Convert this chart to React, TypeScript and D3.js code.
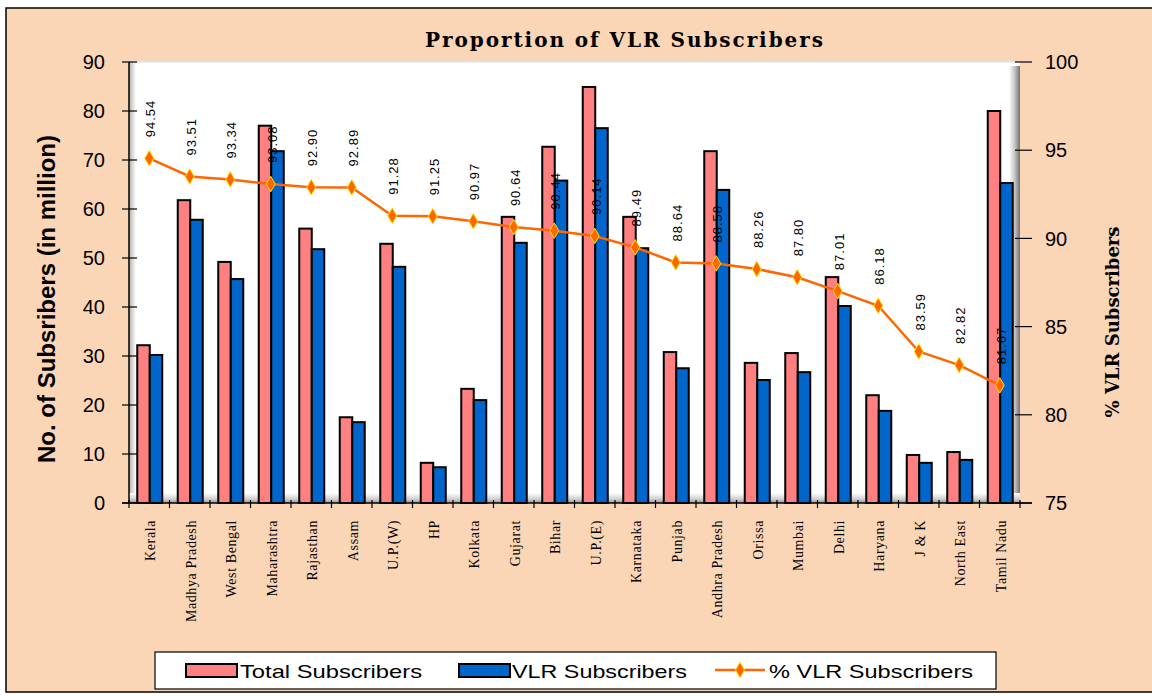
import { useEffect, useRef } from 'react';
import * as d3 from 'd3';

const circles = [
  'Kerala', 'Madhya Pradesh', 'West Bengal', 'Maharashtra', 'Rajasthan', 'Assam',
  'U.P.(W)', 'HP', 'Kolkata', 'Gujarat', 'Bihar', 'U.P.(E)', 'Karnataka', 'Punjab',
  'Andhra Pradesh', 'Orissa', 'Mumbai', 'Delhi', 'Haryana', 'J & K', 'North East', 'Tamil Nadu',
];
const totalSubs = [32.2, 61.8, 49.2, 77.0, 56.0, 17.5, 52.9, 8.2, 23.3, 58.4, 72.7, 84.9, 58.4, 30.8, 71.8, 28.6, 30.6, 46.1, 22.0, 9.8, 10.4, 80.0];
const vlrSubs = [30.2, 57.8, 45.7, 71.8, 51.8, 16.5, 48.2, 7.3, 21.0, 53.1, 65.8, 76.5, 52.0, 27.5, 63.9, 25.1, 26.7, 40.2, 18.8, 8.2, 8.8, 65.3];
const vlrPct = [94.54, 93.51, 93.34, 93.08, 92.90, 92.89, 91.28, 91.25, 90.97, 90.64, 90.44, 90.14, 89.49, 88.64, 88.58, 88.26, 87.80, 87.01, 86.18, 83.59, 82.82, 81.67];
const leftTicks = [0, 10, 20, 30, 40, 50, 60, 70, 80, 90];
const rightTicks = [75, 80, 85, 90, 95, 100];

const PINK = '#FF8080';
const BLUE = '#0066CC';
const ORANGE = '#FF6600';
const PEACH = '#FAD5B6';

const App = () => {
  const svgRef = useRef<SVGSVGElement>(null);

  useEffect(() => {
    const width = 1152;
    const height = 696;
    const plot = { left: 129, right: 1020, top: 62, bottom: 503 };

    const svg = d3.select(svgRef.current);
    svg.selectAll('*').remove();
    svg.attr('width', width).attr('height', height);

    const defs = svg.append('defs');
    const floor = defs.append('linearGradient').attr('id', 'floor').attr('x1', 0).attr('y1', 0).attr('x2', 0).attr('y2', 1);
    floor.append('stop').attr('offset', '0%').attr('stop-color', '#ffffff');
    floor.append('stop').attr('offset', '60%').attr('stop-color', '#d0d0d0');
    floor.append('stop').attr('offset', '100%').attr('stop-color', '#9a9a9a');
    const wallR = defs.append('linearGradient').attr('id', 'wallR').attr('x1', 0).attr('y1', 0).attr('x2', 1).attr('y2', 0);
    wallR.append('stop').attr('offset', '0%').attr('stop-color', '#ffffff');
    wallR.append('stop').attr('offset', '55%').attr('stop-color', '#c0c0c0');
    wallR.append('stop').attr('offset', '100%').attr('stop-color', '#707070');
    const wallL = defs.append('linearGradient').attr('id', 'wallL').attr('x1', 0).attr('y1', 0).attr('x2', 1).attr('y2', 0);
    wallL.append('stop').attr('offset', '0%').attr('stop-color', '#b0b0b0');
    wallL.append('stop').attr('offset', '100%').attr('stop-color', '#ffffff');

    // background + border
    svg.append('rect').attr('x', 6).attr('y', 8).attr('width', 1150).attr('height', 684)
      .attr('fill', PEACH).attr('stroke', '#000').attr('stroke-width', 1.5);

    // plot area with pseudo 3D walls
    svg.append('rect').attr('x', plot.left).attr('y', plot.top)
      .attr('width', plot.right - plot.left).attr('height', plot.bottom - plot.top).attr('fill', '#fff');
    svg.append('line').attr('x1', plot.left).attr('x2', plot.right).attr('y1', plot.top - 0.5).attr('y2', plot.top - 0.5)
      .attr('stroke', '#e0e0e0').attr('stroke-width', 2);
    svg.append('rect').attr('x', plot.left).attr('y', plot.top).attr('width', 7).attr('height', plot.bottom - plot.top)
      .attr('fill', 'url(#wallL)');
    svg.append('rect').attr('x', plot.right - 11).attr('y', plot.top + 4).attr('width', 11).attr('height', plot.bottom - plot.top - 4)
      .attr('fill', 'url(#wallR)');
    svg.append('rect').attr('x', plot.left).attr('y', plot.bottom - 10).attr('width', plot.right - plot.left).attr('height', 10)
      .attr('fill', 'url(#floor)');

    // Scales
    const x = d3.scaleBand().domain(circles).range([plot.left, plot.right]);
    const bw = x.bandwidth();
    const cx = (c: string) => (x(c) as number) + bw / 2;
    const xSub = d3.scaleBand().domain(['total', 'vlr']).range([-12, 13]);
    const yL = d3.scaleLinear().domain([0, 90]).range([plot.bottom, plot.top]);
    const yR = d3.scaleLinear().domain([75, 100]).range([plot.bottom, plot.top]);

    // Bars
    const rows = circles.map((c, i) => ({ c, total: totalSubs[i], vlr: vlrSubs[i], pct: vlrPct[i] }));
    const g = svg.append('g');
    (['total', 'vlr'] as const).forEach(key => {
      g.selectAll(`.bar-${key}`)
        .data(rows)
        .enter()
        .append('rect')
        .attr('x', d => cx(d.c) + (xSub(key) as number))
        .attr('width', xSub.bandwidth())
        .attr('y', d => yL(d[key]))
        .attr('height', d => plot.bottom - yL(d[key]))
        .attr('fill', key === 'total' ? PINK : BLUE)
        .attr('stroke', '#000')
        .attr('stroke-width', 2);
    });

    // Left axis
    svg.append('line').attr('x1', plot.left).attr('x2', plot.left).attr('y1', plot.top).attr('y2', plot.bottom)
      .attr('stroke', '#000').attr('stroke-width', 1.5);
    leftTicks.forEach(t => {
      svg.append('line').attr('x1', 122).attr('x2', 137).attr('y1', yL(t)).attr('y2', yL(t)).attr('stroke', '#000').attr('stroke-width', 1.2);
      svg.append('text').attr('x', 105).attr('y', yL(t)).attr('dy', '0.36em').attr('text-anchor', 'end')
        .style('font-family', 'Liberation Sans, Arial, sans-serif').style('font-size', '20px').text(t);
    });

    // Right axis
    rightTicks.forEach(t => {
      svg.append('line').attr('x1', 1015).attr('x2', 1032).attr('y1', yR(t)).attr('y2', yR(t)).attr('stroke', '#000').attr('stroke-width', 1.2);
      svg.append('text').attr('x', 1045).attr('y', yR(t)).attr('dy', '0.36em')
        .style('font-family', 'Liberation Sans, Arial, sans-serif').style('font-size', '20px').text(t);
    });

    // X axis
    svg.append('line').attr('x1', plot.left - 7).attr('x2', 1032).attr('y1', plot.bottom).attr('y2', plot.bottom)
      .attr('stroke', '#000').attr('stroke-width', 1.5);
    circles.forEach(c => {
      const bx = x(c) as number;
      svg.append('line').attr('x1', bx).attr('x2', bx).attr('y1', plot.bottom - 3).attr('y2', plot.bottom + 5)
        .attr('stroke', '#000').attr('stroke-width', 1.2);
      svg.append('text')
        .attr('transform', `translate(${cx(c) + 6},520) rotate(-90)`)
        .attr('text-anchor', 'end')
        .style('font-family', 'Liberation Serif, Times New Roman, serif').style('font-size', '14px')
        .style('letter-spacing', '0.6px')
        .text(c);
    });
    svg.append('line').attr('x1', plot.right).attr('x2', plot.right).attr('y1', plot.bottom - 3).attr('y2', plot.bottom + 5)
      .attr('stroke', '#000').attr('stroke-width', 1.2);

    // Line series
    const line = d3.line<typeof rows[number]>().x(d => cx(d.c)).y(d => yR(d.pct));
    svg.append('path').datum(rows).attr('d', line).attr('fill', 'none').attr('stroke', ORANGE).attr('stroke-width', 2.5);
    const diamond = d3.symbol().type(d3.symbolDiamond).size(70);
    svg.selectAll('.pt').data(rows).enter().append('path')
      .attr('d', diamond)
      .attr('transform', d => `translate(${cx(d.c)},${yR(d.pct)})`)
      .attr('fill', ORANGE).attr('stroke', '#FFE000').attr('stroke-width', 1);

    // Data labels
    svg.selectAll('.lbl').data(rows).enter().append('text')
      .attr('transform', d => `translate(${cx(d.c) + 6},${yR(d.pct) - 21}) rotate(-90)`)
      .style('font-family', 'Liberation Sans Narrow, Liberation Sans, Arial, sans-serif').style('font-size', '13px')
      .style('letter-spacing', '1px')
      .text(d => d.pct.toFixed(2));

    // Title
    svg.append('text').attr('x', 425).attr('y', 47).attr('textLength', 398).attr('lengthAdjust', 'spacing')
      .style('font-family', 'DejaVu Serif, serif').style('font-size', '20px').style('font-weight', 'bold')
      .text('Proportion of VLR Subscribers');

    // Axis titles
    svg.append('text').attr('transform', 'translate(55,299) rotate(-90)').attr('text-anchor', 'middle')
      .style('font-family', 'Liberation Sans, Arial, sans-serif').style('font-size', '24px').style('font-weight', 'bold')
      .text('No. of Subsribers (in million)');
    svg.append('text').attr('transform', 'translate(1119,322) rotate(-90)').attr('text-anchor', 'middle')
      .style('font-family', 'DejaVu Serif, serif').style('font-size', '18px').style('font-weight', 'bold')
      .text('% VLR Subscribers');

    // Legend
    const lg = svg.append('g');
    lg.append('rect').attr('x', 155).attr('y', 652).attr('width', 841).attr('height', 37).attr('fill', '#fff').attr('stroke', '#000').attr('stroke-width', 1.2);
    const legendFont = (sel: d3.Selection<SVGTextElement, unknown, null, undefined>) =>
      sel.style('font-family', 'Liberation Sans, Arial, sans-serif').style('font-size', '19px');
    lg.append('rect').attr('x', 186).attr('y', 664).attr('width', 51).attr('height', 13).attr('fill', PINK).attr('stroke', '#000').attr('stroke-width', 2);
    legendFont(lg.append('text').attr('x', 240).attr('y', 678).attr('textLength', 182).attr('lengthAdjust', 'spacingAndGlyphs').text('Total Subscribers'));
    lg.append('rect').attr('x', 459).attr('y', 664).attr('width', 51).attr('height', 13).attr('fill', BLUE).attr('stroke', '#000').attr('stroke-width', 2);
    legendFont(lg.append('text').attr('x', 512).attr('y', 678).attr('textLength', 175).attr('lengthAdjust', 'spacingAndGlyphs').text('VLR Subscribers'));
    lg.append('line').attr('x1', 715).attr('x2', 765).attr('y1', 670).attr('y2', 670).attr('stroke', ORANGE).attr('stroke-width', 2.5);
    lg.append('path').attr('d', diamond).attr('transform', 'translate(740,670)').attr('fill', ORANGE).attr('stroke', '#FFE000');
    legendFont(lg.append('text').attr('x', 769).attr('y', 678).attr('textLength', 204).attr('lengthAdjust', 'spacingAndGlyphs').text('% VLR Subscribers'));
  }, []);

  return <svg ref={svgRef} style={{ position: 'absolute', left: 0, top: 0 }}></svg>;
};

export default App;
